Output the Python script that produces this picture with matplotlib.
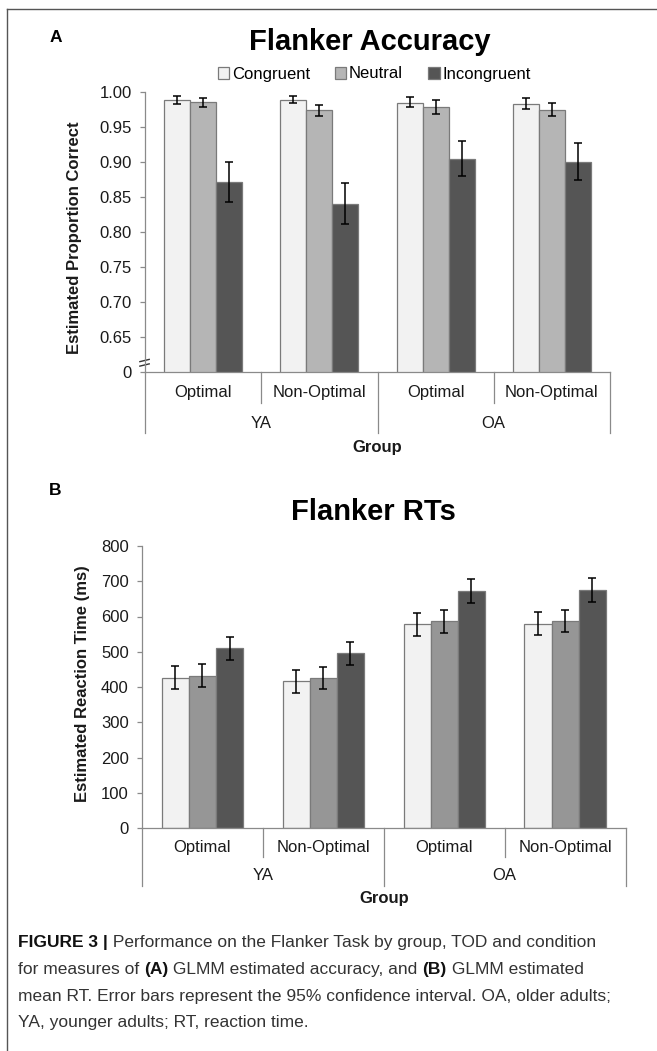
import numpy as np
import matplotlib
matplotlib.use("Agg")
import matplotlib.pyplot as plt
from matplotlib.patches import Patch
from matplotlib.lines import Line2D

plt.rcParams['font.family'] = ['Liberation Sans', 'DejaVu Sans']

# categories
groups = ['YA', 'OA']
tods = ['Optimal', 'Non-Optimal', 'Optimal', 'Non-Optimal']
conditions = ['Congruent', 'Neutral', 'Incongruent']

# panel A - estimated accuracy with 95% CI (lower, upper)
acc_congruent = [0.988, 0.989, 0.985, 0.983]
acc_cong_lo = [0.983, 0.984, 0.978, 0.976]
acc_cong_hi = [0.994, 0.994, 0.993, 0.991]
acc_neutral = [0.986, 0.974, 0.979, 0.975]
acc_neu_lo = [0.978, 0.966, 0.969, 0.966]
acc_neu_hi = [0.992, 0.981, 0.988, 0.984]
acc_incongruent = [0.871, 0.840, 0.905, 0.900]
acc_inc_lo = [0.843, 0.811, 0.880, 0.875]
acc_inc_hi = [0.900, 0.870, 0.930, 0.927]
acc_ticks = [0.60, 0.65, 0.70, 0.75, 0.80, 0.85, 0.90, 0.95, 1.00]
acc_ticklabels = ['0', '0.65', '0.70', '0.75', '0.80', '0.85', '0.90', '0.95', '1.00']

# panel B - estimated RT (ms) with 95% CI
rt_congruent = [426, 417, 578, 580]
rt_cong_lo = [393, 384, 545, 547]
rt_cong_hi = [459, 449, 610, 612]
rt_neutral = [432, 426, 586, 587]
rt_neu_lo = [400, 393, 554, 555]
rt_neu_hi = [465, 458, 618, 619]
rt_incongruent = [510, 496, 672, 676]
rt_inc_lo = [477, 463, 639, 642]
rt_inc_hi = [542, 528, 705, 708]
rt_ticks = [0, 100, 200, 300, 400, 500, 600, 700, 800]

W, H = 657, 1051
axis_gray = '#8a8a8a'
edge_gray = '#7a7a7a'
text_col = '#1a1a1a'
bar_w = 0.224

fig = plt.figure(figsize=(W / 100, H / 100), dpi=100)


def px_axes(x0, y0, x1, y1):
    # axes rectangle from pixel box (top-left origin)
    return fig.add_axes([x0 / W, 1 - y1 / H, (x1 - x0) / W, (y1 - y0) / H])


def draw_bars(ax, means, los, his, colors):
    x = np.arange(len(tods))
    for k, (m, lo, hi, c) in enumerate(zip(means, los, his, colors)):
        m = np.array(m)
        err = [m - np.array(lo), np.array(hi) - m]
        ax.bar(x + (k - 1) * bar_w, m, bar_w, color=c, edgecolor=edge_gray,
               linewidth=0.9, zorder=2)
        ax.errorbar(x + (k - 1) * bar_w, m, yerr=err, fmt='none', ecolor='black',
                    elinewidth=1.1, capsize=2.9, capthick=1.1, zorder=3)


def style_axis(ax):
    for s in ['top', 'right']:
        ax.spines[s].set_visible(False)
    for s in ['left', 'bottom']:
        ax.spines[s].set_color(axis_gray)
        ax.spines[s].set_linewidth(0.9)
    ax.set_xlim(-0.5, len(tods) - 0.5)
    ax.set_xticks([])
    ax.tick_params(axis='y', direction='out', length=3.5, width=0.9, color=axis_gray,
                   labelsize=12, labelcolor=text_col, pad=6)


def category_axis(ax, h_px, tod_px, inner_px, grp_px, outer_px, label_px):
    # two-level category labels under the x axis (offsets in pixels below axis)
    trans = ax.get_xaxis_transform()
    for i, lab in enumerate(tods):
        ax.text(i, -tod_px / h_px, lab, transform=trans, ha='center', va='center',
                fontsize=12, color=text_col)
    for k in range(len(tods) + 1):
        depth = outer_px if k % 2 == 0 else inner_px
        ax.add_line(Line2D([k - 0.5, k - 0.5], [0, -depth / h_px], transform=trans,
                           color=axis_gray, lw=0.9, clip_on=False))
    for j, g in enumerate(groups):
        ax.text(2 * j + 0.5, -grp_px / h_px, g, transform=trans, ha='center',
                va='center', fontsize=12, color=text_col)
    ax.text(1.5, -label_px / h_px, 'Group', transform=trans, ha='center', va='center',
            fontsize=12, fontweight='bold', color=text_col)


# ---- panel A ----
axA = px_axes(145, 92, 610, 372)
draw_bars(axA, [acc_congruent, acc_neutral, acc_incongruent],
          [acc_cong_lo, acc_neu_lo, acc_inc_lo], [acc_cong_hi, acc_neu_hi, acc_inc_hi],
          ['#f2f2f2', '#b5b5b5', '#555555'])
style_axis(axA)
axA.set_ylim(0.60, 1.00)
axA.set_yticks(acc_ticks)
axA.set_yticklabels(acc_ticklabels)
category_axis(axA, 280, 20.7, 30.7, 51, 60.7, 75)
# axis break marks
for yb in [0.041, 0.025]:
    axA.add_line(Line2D([-0.011, 0.009], [yb - 0.004, yb + 0.004], transform=axA.transAxes,
                        color='#333333', lw=1.0, clip_on=False))

fig.text(75 / W, 1 - 238 / H, 'Estimated Proportion Correct', rotation=90, ha='center',
         va='center', fontsize=12, fontweight='bold', color=text_col)
fig.text(370 / W, 1 - 50 / H, 'Flanker Accuracy', ha='center', va='baseline',
         fontsize=21, fontweight='bold', color='black')
fig.text(55.5 / W, 1 - 37 / H, 'A', ha='center', va='center', fontsize=12.5,
         fontweight='bold', color='black')

handles = [Patch(facecolor=c, edgecolor=edge_gray, linewidth=0.9)
           for c in ['#f2f2f2', '#b5b5b5', '#555555']]
fig.legend(handles, conditions, loc='center', bbox_to_anchor=(374 / W, 1 - 74 / H),
           ncol=3, frameon=False, fontsize=12, handlelength=0.7, handleheight=0.7,
           handletextpad=0.15, columnspacing=1.5, borderpad=0)

# ---- panel B ----
axB = px_axes(142, 546, 625.5, 828)
draw_bars(axB, [rt_congruent, rt_neutral, rt_incongruent],
          [rt_cong_lo, rt_neu_lo, rt_inc_lo], [rt_cong_hi, rt_neu_hi, rt_inc_hi],
          ['#f2f2f2', '#969696', '#555555'])
style_axis(axB)
axB.set_ylim(0, 800)
axB.set_yticks(rt_ticks)
category_axis(axB, 282, 19.7, 29, 48, 58, 71)

fig.text(82 / W, 1 - 684 / H, 'Estimated Reaction Time (ms)', rotation=90, ha='center',
         va='center', fontsize=12, fontweight='bold', color=text_col)
fig.text(373 / W, 1 - 520 / H, 'Flanker RTs', ha='center', va='baseline',
         fontsize=21, fontweight='bold', color='black')
fig.text(55 / W, 1 - 490.5 / H, 'B', ha='center', va='center', fontsize=12.5,
         fontweight='bold', color='black')

# ---- frame around the figure ----
fig.add_artist(Line2D([7 / W, 1], [1 - 9 / H, 1 - 9 / H], transform=fig.transFigure,
                      color='#555555', lw=1.0))
fig.add_artist(Line2D([7 / W, 7 / W], [1 - 9 / H, 0], transform=fig.transFigure,
                      color='#555555', lw=1.0))

# ---- caption with bold runs ----
caption = [
    [('FIGURE 3 |', True), (' Performance on the Flanker Task by group, TOD and condition', False)],
    [('for measures of ', False), ('(A)', True), (' GLMM estimated accuracy, and ', False),
     ('(B)', True), (' GLMM estimated', False)],
    [('mean RT. Error bars represent the 95% confidence interval. OA, older adults;', False)],
    [('YA, younger adults; RT, reaction time.', False)],
]
cap_base = [947, 974, 1001, 1027]
renderer = fig.canvas.get_renderer()
for line, yb in zip(caption, cap_base):
    x = 18 / W
    for txt, bold in line:
        t = fig.text(x, 1 - yb / H, txt, ha='left', va='baseline', fontsize=12.5,
                     fontweight='bold' if bold else 'normal',
                     color='#111111' if bold else '#333333')
        bb = t.get_window_extent(renderer=renderer)
        x = bb.x1 / W

fig.savefig('out.png', dpi=100)
